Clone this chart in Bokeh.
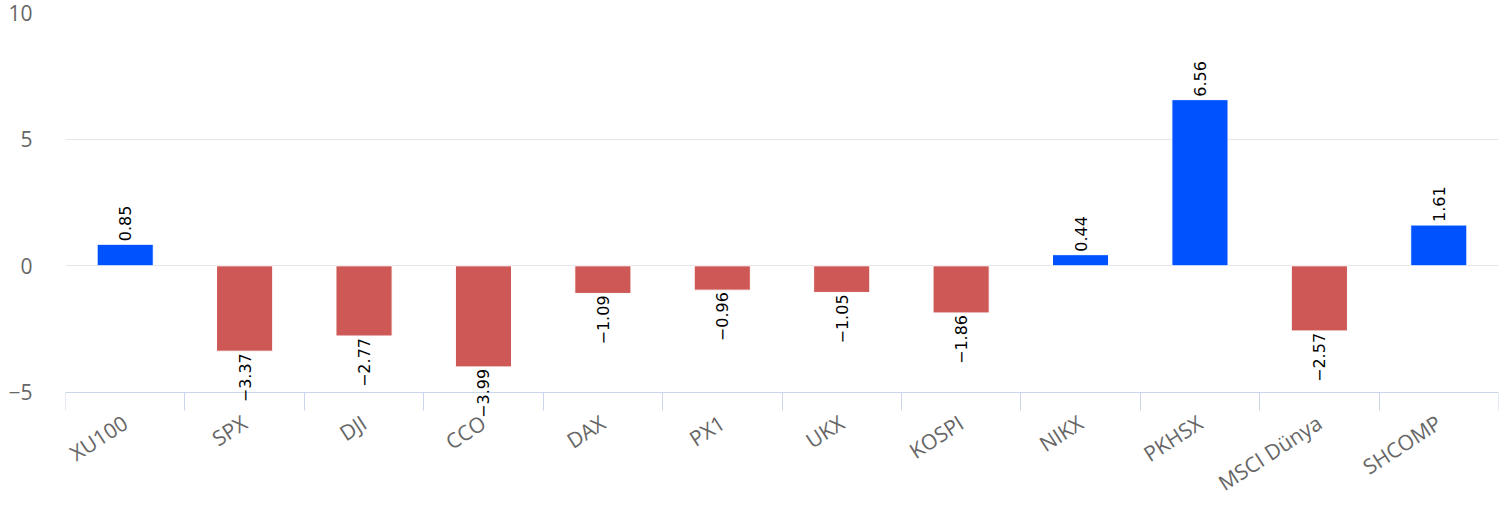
import math
from bokeh.plotting import figure
from bokeh.models import ColumnDataSource, Range1d, FixedTicker, LabelSet
from bokeh.core.properties import value
from bokeh.embed import file_html
from bokeh.resources import INLINE

categories = ["XU100", "SPX", "DJI", "CCO", "DAX", "PX1", "UKX", "KOSPI",
              "NIKX", "PKHSX", "MSCI Dünya", "SHCOMP"]
values = [0.85, -3.37, -2.77, -3.99, -1.09, -0.96, -1.05, -1.86, 0.44, 6.56, -2.57, 1.61]
y_ticks = [-5, 0, 5, 10]

BLUE = "#0052FF"
RED = "#CD5856"

n = len(categories)
xs = [i + 0.5 for i in range(n)]
bottoms = [min(v, 0) for v in values]
tops = [max(v, 0) for v in values]
colors = [BLUE if v >= 0 else RED for v in values]
labels = [f"{v:.2f}".replace("-", "\u2212") for v in values]

src = ColumnDataSource(dict(x=xs, top=tops, bottom=bottoms, color=colors))
pos = ColumnDataSource(dict(x=[x for x, v in zip(xs, values) if v >= 0],
                            y=[v for v in values if v >= 0],
                            t=[l for l, v in zip(labels, values) if v >= 0]))
neg = ColumnDataSource(dict(x=[x for x, v in zip(xs, values) if v < 0],
                            y=[v for v in values if v < 0],
                            t=[l for l, v in zip(labels, values) if v < 0]))

# frame: top at y=10, x axis drawn at y=-5 inside the frame, room below for labels
Y_BOTTOM = -9.54
p = figure(width=1505, height=507, output_backend="svg", toolbar_location=None,
           x_range=Range1d(0, n), y_range=Range1d(Y_BOTTOM, 10),
           min_border_left=65, min_border_right=7, min_border_top=12, min_border_bottom=0)
p.outline_line_color = None
p.background_fill_color = "white"

p.vbar(x="x", top="top", bottom="bottom", width=0.47, fill_color="color",
       line_color="white", line_width=1, source=src)

p.add_layout(LabelSet(x="x", y="y", text="t", source=pos, angle=math.pi / 2,
                      text_align="left", text_baseline="middle", y_offset=3,
                      text_font=value("DejaVu Sans"), text_font_size="16px",
                      text_color="#000000", level="overlay"))
p.add_layout(LabelSet(x="x", y="y", text="t", source=neg, angle=math.pi / 2,
                      text_align="right", text_baseline="middle", y_offset=-2,
                      text_font=value("DejaVu Sans"), text_font_size="16px",
                      text_color="#000000", level="overlay"))

# y axis
p.yaxis.ticker = FixedTicker(ticks=y_ticks)
p.yaxis.major_label_overrides = {t: (str(t).replace("-", "\u2212")) for t in y_ticks}
p.yaxis.axis_line_color = None
p.yaxis.major_tick_line_color = None
p.yaxis.minor_tick_line_color = None
p.yaxis.major_tick_out = 0
p.yaxis.major_tick_in = 0
p.yaxis.major_label_standoff = 33
p.yaxis.major_label_text_font = "Open Sans"
p.yaxis.major_label_text_font_size = "21px"
p.yaxis.major_label_text_color = "#666666"
p.ygrid.grid_line_color = "#e6e6e6"
p.ygrid.ticker = FixedTicker(ticks=y_ticks)

# x axis, fixed at y = -5
p.xgrid.visible = False
xa = p.xaxis[0]
xa.fixed_location = -5
xa.ticker = FixedTicker(ticks=xs, minor_ticks=list(range(n + 1)))
xa.major_label_overrides = {x: c for x, c in zip(xs, categories)}
xa.axis_line_color = "#ccd6eb"
xa.axis_line_width = 1
xa.major_tick_line_color = None
xa.major_tick_out = 0
xa.major_tick_in = 0
xa.minor_tick_line_color = "#ccd6eb"
xa.minor_tick_out = 18
xa.minor_tick_in = 0
xa.major_label_standoff = 10
xa.major_label_orientation = math.radians(33)
xa.major_label_text_font = "Open Sans"
xa.major_label_text_font_size = "21px"
xa.major_label_text_color = "#666666"

open("out.html", "w").write(file_html(p, INLINE))
